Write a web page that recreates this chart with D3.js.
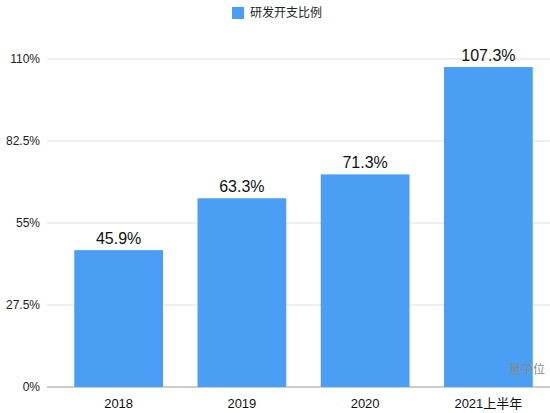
<!DOCTYPE html>
<html>
<head>
<meta charset="utf-8">
<script src="https://d3js.org/d3.v7.min.js"></script>
<style>
    body { margin: 0; background: #fff; }
    text { font-family: "Liberation Sans", Arial, "Noto Sans CJK SC", sans-serif; }
</style>
</head>
<body>
<svg id="chart" width="550" height="413"></svg>
<script>
var years = ["2018", "2019", "2020", "2021上半年"];
var ratios = [45.9, 63.3, 71.3, 107.3];
var ticks = [0, 27.5, 55, 82.5, 110];
var seriesName = "研发开支比例";

var svg = d3.select("#chart");
var x = d3.scaleBand().domain(years).range([57, 550]).paddingInner(0.28).paddingOuter(0.14);
var y = d3.scaleLinear().domain([0, 110]).range([387, 59]);

// grid
svg.append("g").selectAll("line").data(ticks).enter().append("line")
    .attr("x1", 47).attr("x2", 550)
    .attr("y1", function(d) { return y(d); }).attr("y2", function(d) { return y(d); })
    .attr("stroke", function(d) { return d === 0 ? "#999" : "#ddd"; });

svg.append("g").selectAll("text").data(ticks).enter().append("text")
    .attr("x", 40).attr("y", function(d) { return y(d) + 4; })
    .attr("text-anchor", "end").attr("font-size", 12).attr("fill", "#222")
    .text(function(d) { return d + "%"; });

// bars
svg.append("g").selectAll("rect").data(ratios).enter().append("rect")
    .attr("x", function(d, i) { return x(years[i]); })
    .attr("width", x.bandwidth())
    .attr("y", function(d) { return y(d); })
    .attr("height", function(d) { return y(0) - y(d); })
    .attr("fill", "#4a9ff5");

svg.append("g").selectAll("text").data(ratios).enter().append("text")
    .attr("x", function(d, i) { return x(years[i]) + x.bandwidth() / 2; })
    .attr("y", function(d) { return y(d) - 6; })
    .attr("text-anchor", "middle").attr("font-size", 16).attr("fill", "#111")
    .text(function(d) { return d + "%"; });

svg.append("g").selectAll("text").data(years).enter().append("text")
    .attr("x", function(d) { return x(d) + x.bandwidth() / 2; })
    .attr("y", 408)
    .attr("text-anchor", "middle").attr("font-size", 13).attr("fill", "#111")
    .text(function(d) { return d; });

// legend
svg.append("rect").attr("x", 232).attr("y", 7).attr("width", 12).attr("height", 12).attr("fill", "#4a9ff5");
svg.append("text").attr("x", 250).attr("y", 17).attr("font-size", 12).attr("fill", "#222").text(seriesName);

// watermark
svg.append("text").attr("x", 545).attr("y", 374).attr("text-anchor", "end")
    .attr("font-size", 12).attr("fill", "#888").text("量子位");
</script>
</body>
</html>
